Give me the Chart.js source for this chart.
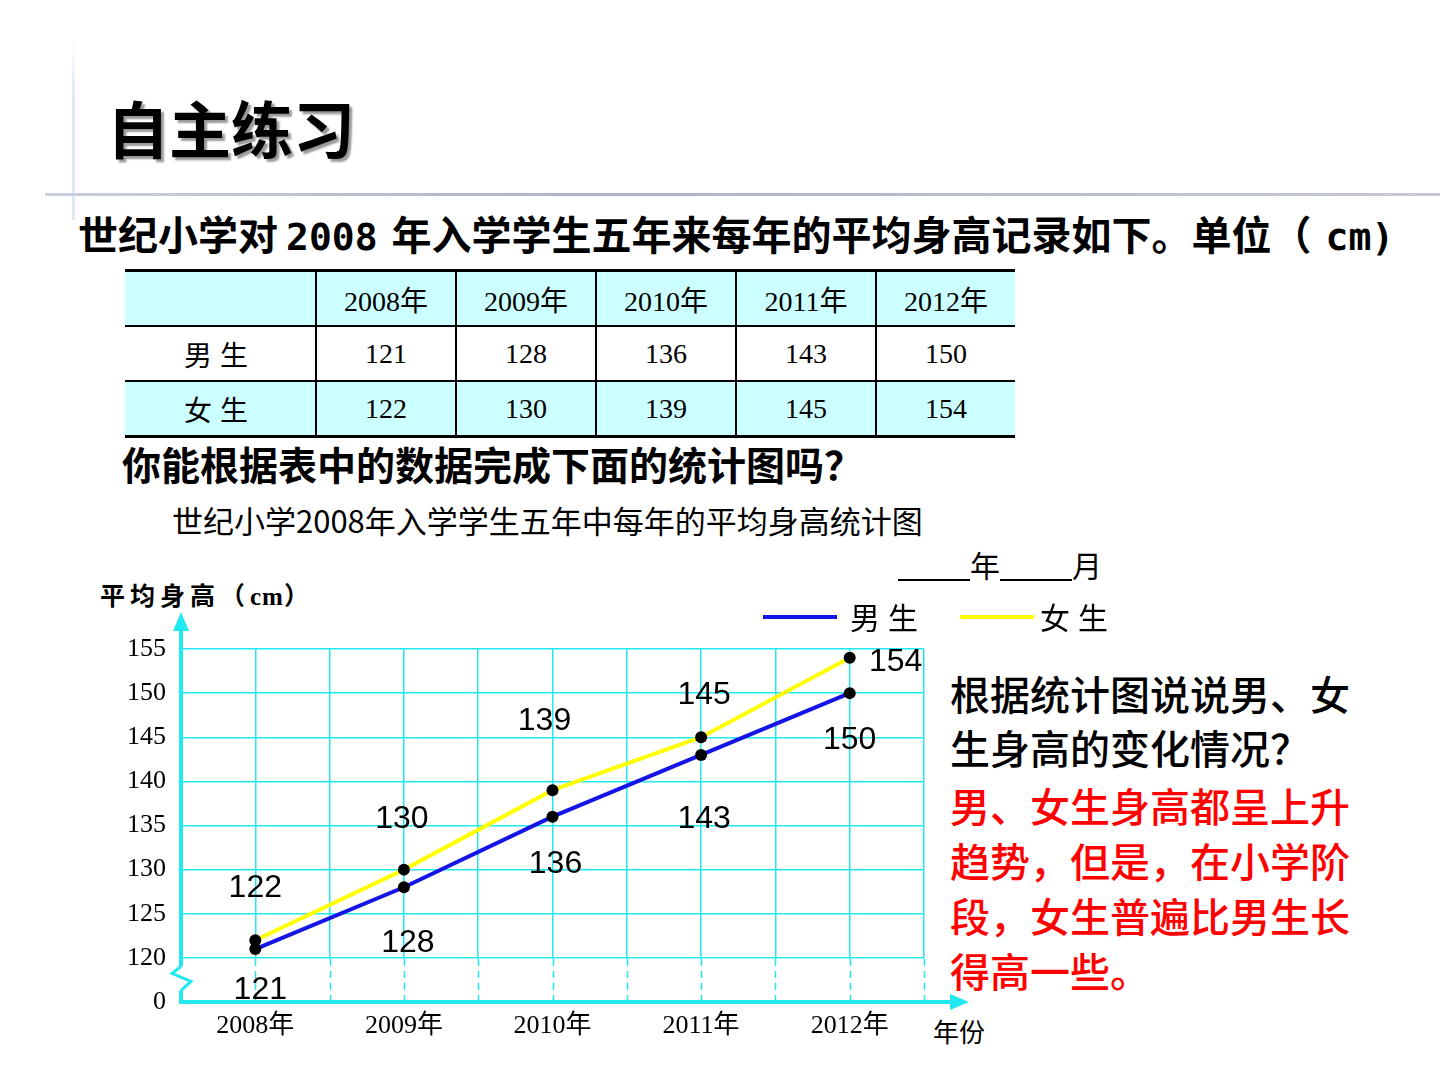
<!DOCTYPE html>
<html>
<head>
<meta charset="utf-8">
<script src="https://cdn.jsdelivr.net/npm/chart.js@4.4.1/dist/chart.umd.min.js"></script>
<style>
body { margin: 0; background: #fff; }
#page { position: relative; width: 1440px; height: 1080px; overflow: hidden; background: #fff;
        font-family: "Noto Sans CJK SC", sans-serif; color: #000; }
.t { position: absolute; white-space: nowrap; line-height: 1; }
.mono { font-family: "DejaVu Sans Mono", monospace; font-weight: bold; font-size: 38px; letter-spacing: 0; }
#vline { position: absolute; left: 72px; top: 40px; width: 3px; height: 180px;
         background: linear-gradient(#ffffff, #dfeaf6 30%, #dfeaf6); }
#hline { position: absolute; left: 45px; top: 193px; width: 1395px; height: 3px;
         background: linear-gradient(90deg, #c8d0de, #aab3c8 40%, #c4cad8); }
#tbl { position: absolute; left: 125px; top: 269px; border-collapse: collapse;
       font-family: "Liberation Serif", "Noto Sans CJK SC", serif; font-size: 28px; }
#tbl td { border-left: 2px solid #000; border-top: 2px solid #000; text-align: center; padding: 0;
          height: 53px; width: 138px; }
#tbl td:first-child { border-left: none; width: 190px; letter-spacing: 8px; }
#tbl tr:first-child td { border-top: 3px solid #000; }
#tbl tr:last-child td { border-bottom: 3px solid #000; }
#tbl tr.c td { background: #ccffff; }
#myChart { position: absolute; left: 0; top: 0; }
.red { color: #ff0000; }
</style>
</head>
<body>
<div id="page">
  <div id="vline"></div>
  <div id="hline"></div>
  <div class="t" style="left:107px;top:96px;font-size:62px;font-weight:bold;text-shadow:3px 3px 2px #9a9a9a;">自主练习</div>
  <div class="t" style="left:78px;top:213px;font-size:40px;font-weight:bold;">世纪小学对<span class="mono" style="margin:0 14px 0 8px;">2008</span>年入学学生五年来每年的平均身高记录如下。单位（<span class="mono" style="margin-left:14px;">cm)</span></div>
  <table id="tbl"></table>
  <div class="t" style="left:122px;top:444px;font-size:39px;font-weight:bold;">你能根据表中的数据完成下面的统计图吗？</div>
  <div class="t" style="left:172px;top:504px;font-size:31px;">世纪小学2008年入学学生五年中每年的平均身高统计图</div>
  <div class="t" style="left:898px;top:549px;font-size:30px;"><span style="display:inline-block;width:72px;border-bottom:2px solid #000;">&nbsp;</span>年<span style="display:inline-block;width:72px;border-bottom:2px solid #000;">&nbsp;</span>月</div>
  <div class="t" style="left:100px;top:582px;font-size:25px;font-weight:bold;letter-spacing:5px;">平均身高（<span style="font-family:'Liberation Serif',serif;letter-spacing:1px;">cm</span>）</div>
  <div class="t" style="left:933px;top:1018px;font-size:26px;">年份</div>
  <div class="t" style="left:950px;top:666px;font-size:40px;font-weight:500;line-height:54px;">根据统计图说说男、女<br>生身高的变化情况？</div>
  <div class="t red" style="left:950px;top:778px;font-size:40px;font-weight:500;line-height:55px;">男、女生身高都呈上升<br>趋势，但是，在小学阶<br>段，女生普遍比男生长<br>得高一些。</div>
  <canvas id="myChart" width="1440" height="1080"></canvas>
</div>
<script>
// data
var years = ["2008年", "2009年", "2010年", "2011年", "2012年"];
var boys = [121, 128, 136, 143, 150];
var girls = [122, 130, 139, 145, 154];
var seriesNames = ["男生", "女生"];
var yMin = 115, yMax = 155, yStep = 5;   // yMin is the broken part of the axis, shown as "0"
var breakLabel = "0";

var cyan = "#22e8f0";
var serif = "'Liberation Serif', 'Noto Sans CJK SC', serif";

// table above the chart
var rows = "<tr class='c'><td></td>" + years.map(y => "<td>" + y + "</td>").join("") + "</tr>";
rows += "<tr><td>" + seriesNames[0] + "</td>" + boys.map(v => "<td>" + v + "</td>").join("") + "</tr>";
rows += "<tr class='c'><td>" + seriesNames[1] + "</td>" + girls.map(v => "<td>" + v + "</td>").join("") + "</tr>";
document.getElementById("tbl").innerHTML = rows;

// where each value label sits relative to its dot (hand placed on the slide)
var labelShift = [
  [[5, 41], [4, 56], [3, 47], [3, 64], [0, 47]],      // boys: below
  [[0, -52], [-2, -50], [-8, -69], [3, -42], [46, 4]]  // girls: above, last one to the right
];

// axis arrows, the break in the y axis, dashed grid below 120, value labels, legend
var decor = {
  id: "decor",
  beforeDatasetsDraw(chart) {
    var ctx = chart.ctx, a = chart.chartArea, xs = chart.scales.x, ys = chart.scales.y;
    var y120 = ys.getPixelForValue(yMin + yStep), y0 = ys.getPixelForValue(yMin);
    ctx.save();
    // grid under the first real tick is dashed
    ctx.fillStyle = "#fff";
    ctx.fillRect(a.left + 3, y120 + 1, a.right - a.left, y0 - y120 - 3);
    ctx.strokeStyle = cyan;
    ctx.lineWidth = 1.5;
    ctx.setLineDash([7, 5]);
    xs.ticks.forEach(t => {
      if (t.value <= xs.min) return;
      var px = Math.round(xs.getPixelForValue(t.value)) + 0.5;
      ctx.beginPath(); ctx.moveTo(px, y120 + 1); ctx.lineTo(px, y0 - 2); ctx.stroke();
    });
    ctx.setLineDash([]);
    // zigzag break on the y axis
    var zb = ys.getPixelForValue(yMin + 3.8);
    ctx.fillRect(a.left - 4, zb - 2, 10, 24);
    ctx.lineWidth = 3;
    ctx.beginPath();
    ctx.moveTo(a.left, zb - 2);
    ctx.lineTo(a.left - 9, zb + 5);
    ctx.lineTo(a.left + 10, zb + 13);
    ctx.lineTo(a.left, zb + 22);
    ctx.stroke();
    // y axis arrow
    ctx.fillStyle = cyan;
    ctx.lineWidth = 4;
    ctx.beginPath(); ctx.moveTo(a.left, a.top); ctx.lineTo(a.left, a.top - 22); ctx.stroke();
    ctx.beginPath();
    ctx.moveTo(a.left, a.top - 37); ctx.lineTo(a.left - 8, a.top - 18); ctx.lineTo(a.left + 8, a.top - 18);
    ctx.closePath(); ctx.fill();
    // x axis arrow
    ctx.beginPath(); ctx.moveTo(a.right, a.bottom); ctx.lineTo(a.right + 30, a.bottom); ctx.stroke();
    ctx.beginPath();
    ctx.moveTo(a.right + 45, a.bottom); ctx.lineTo(a.right + 26, a.bottom - 8); ctx.lineTo(a.right + 26, a.bottom + 8);
    ctx.closePath(); ctx.fill();
    ctx.restore();
  },
  afterDatasetsDraw(chart) {
    var ctx = chart.ctx;
    ctx.save();
    ctx.fillStyle = "#000";
    ctx.font = "32px 'Liberation Sans', Arial, sans-serif";
    ctx.textBaseline = "middle";
    ctx.textAlign = "center";
    chart.data.datasets.forEach((ds, i) => {
      chart.getDatasetMeta(i).data.forEach((p, j) => {
        var s = labelShift[i][j];
        ctx.fillText(ds.data[j].y, p.x + s[0], p.y + s[1]);
      });
    });
    // legend
    var lx = [763, 960], tx = [850, 1040], ly = 617;
    ctx.font = "30px 'Noto Sans CJK SC', sans-serif";
    ctx.textAlign = "left";
    ctx.letterSpacing = "8px";
    chart.data.datasets.forEach((ds, i) => {
      ctx.strokeStyle = ds.borderColor;
      ctx.lineWidth = 4;
      ctx.beginPath(); ctx.moveTo(lx[i], ly); ctx.lineTo(lx[i] + 74, ly); ctx.stroke();
      ctx.fillText(ds.label, tx[i], ly + 1);
    });
    ctx.restore();
  }
};

function series(vals) {
  return vals.map((v, i) => ({ x: i, y: v }));
}

new Chart("myChart", {
  type: "line",
  data: {
    datasets: [
      { label: seriesNames[0], data: series(boys), borderColor: "#1414e6", borderWidth: 4,
        pointRadius: 6, pointBackgroundColor: "#000", pointBorderWidth: 0, tension: 0 },
      { label: seriesNames[1], data: series(girls), borderColor: "#ffff00", borderWidth: 4,
        pointRadius: 6, pointBackgroundColor: "#000", pointBorderWidth: 0, tension: 0 }
    ]
  },
  options: {
    responsive: false,
    animation: false,
    layout: { padding: { left: 111, top: 649, right: 516, bottom: 38 } },
    plugins: { legend: { display: false }, tooltip: { enabled: false } },
    scales: {
      x: {
        type: "linear", min: -0.5, max: years.length - 0.5,
        afterFit: s => { s.height = 40; },
        ticks: {
          stepSize: 0.5, autoSkip: false, maxRotation: 0, maxTicksLimit: 30, padding: 9,
          color: "#000", font: { family: serif, size: 26 },
          callback: v => Number.isInteger(v) ? years[v] : ""
        },
        grid: { color: cyan, lineWidth: 1.5, drawTicks: false },
        border: { color: cyan, width: 4 }
      },
      y: {
        min: yMin, max: yMax,
        afterFit: s => { s.width = 70; },
        ticks: {
          stepSize: yStep, padding: 15, color: "#000", font: { family: serif, size: 26 },
          callback: v => v === yMin ? breakLabel : v
        },
        grid: { color: cyan, lineWidth: 1.5, drawTicks: false },
        border: { color: cyan, width: 4 }
      }
    }
  },
  plugins: [decor]
});
</script>
</body>
</html>
